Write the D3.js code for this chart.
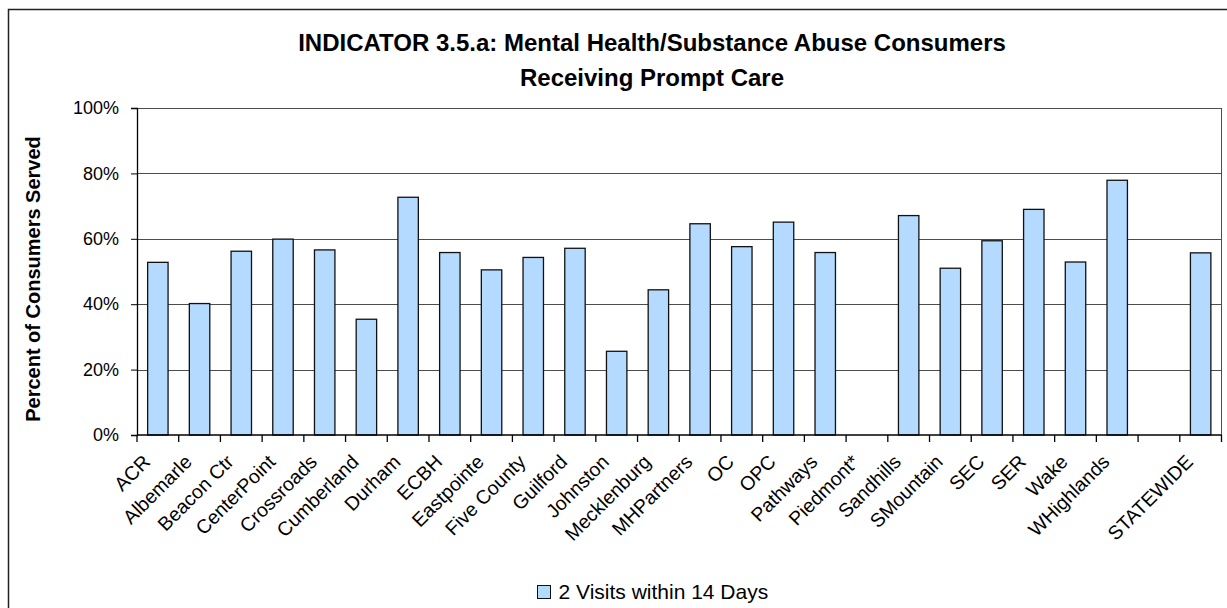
<!DOCTYPE html>
<html>
<head>
<meta charset="utf-8">
<script src="https://cdn.jsdelivr.net/npm/d3@7"></script>
<style>
  body { margin: 0; background: #fff; }
  text { font-family: "Liberation Sans", Arial, sans-serif; fill: #000; }
</style>
</head>
<body>
<svg id="chart" width="1227" height="608"></svg>
<script>
// Categories (the blank one is the gap before STATEWIDE)
var categories = [ 'ACR', 'Albemarle', 'Beacon Ctr', 'CenterPoint', 'Crossroads', 'Cumberland',
	'Durham', 'ECBH', 'Eastpointe', 'Five County', 'Guilford', 'Johnston', 'Mecklenburg',
	'MHPartners', 'OC', 'OPC', 'Pathways', 'Piedmont*', 'Sandhills', 'SMountain', 'SEC',
	'SER', 'Wake', 'WHighlands', '', 'STATEWIDE' ];

// Share of consumers with 2 visits within 14 days
var visits = [ 0.528, 0.402, 0.562, 0.599, 0.566, 0.354, 0.727, 0.558, 0.505, 0.543, 0.571,
	0.256, 0.444, 0.646, 0.576, 0.651, 0.558, null, 0.671, 0.510, 0.594, 0.690, 0.529,
	0.779, null, 0.557 ];

var yTicks = [ 0, 0.2, 0.4, 0.6, 0.8, 1 ];

var titleLines = [ 'INDICATOR 3.5.a: Mental Health/Substance Abuse Consumers', 'Receiving Prompt Care' ];
var yTitle = 'Percent of Consumers Served';
var seriesName = '2 Visits within 14 Days';

var viz = {
	plot: { left: 137, right: 1221.5, top: 108, bottom: 435 },
	barColor: '#b4daff',
	gridColor: '#4d4d4d'
};

var svg = d3.select( '#chart' );

// Outer chart frame (runs past the right and bottom edges)
svg.append( 'rect' )
	.attr( 'x', 8.5 ).attr( 'y', 9.5 )
	.attr( 'width', 1400 ).attr( 'height', 700 )
	.attr( 'fill', 'none' )
	.attr( 'stroke', '#222' )
	.attr( 'stroke-width', 1.5 );

var x = d3.scaleBand()
	.domain( categories )
	.range( [ viz.plot.left, viz.plot.right ] )
	.padding( 0 );

var y = d3.scaleLinear()
	.domain( [ 0, 1 ] )
	.range( [ viz.plot.bottom, viz.plot.top ] );

// Gridlines
svg.append( 'g' ).selectAll( 'line' )
	.data( yTicks.filter( function ( d ) { return d > 0; } ) )
	.enter().append( 'line' )
	.attr( 'x1', viz.plot.left ).attr( 'x2', viz.plot.right )
	.attr( 'y1', function ( d ) { return Math.round( y( d ) ) + 0.5; } )
	.attr( 'y2', function ( d ) { return Math.round( y( d ) ) + 0.5; } )
	.attr( 'stroke', viz.gridColor )
	.attr( 'stroke-width', 1 );

// Right border of the plot area
svg.append( 'line' )
	.attr( 'x1', viz.plot.right ).attr( 'x2', viz.plot.right )
	.attr( 'y1', viz.plot.top ).attr( 'y2', viz.plot.bottom )
	.attr( 'stroke', viz.gridColor );

// Bars
var barWidth = x.bandwidth() * 0.49;
svg.append( 'g' ).selectAll( 'rect' )
	.data( categories.map( function ( c, i ) { return { cat: c, value: visits[i] }; } )
		.filter( function ( d ) { return d.value !== null; } ) )
	.enter().append( 'rect' )
	.attr( 'x', function ( d ) { return x( d.cat ) + ( x.bandwidth() - barWidth ) / 2; } )
	.attr( 'y', function ( d ) { return y( d.value ); } )
	.attr( 'width', barWidth )
	.attr( 'height', function ( d ) { return y( 0 ) - y( d.value ); } )
	.attr( 'fill', viz.barColor )
	.attr( 'stroke', '#111' )
	.attr( 'stroke-width', 1.3 );

// Y axis
var yAxis = svg.append( 'g' )
	.attr( 'transform', 'translate(' + viz.plot.left + ',0)' )
	.call( d3.axisLeft( y ).tickValues( yTicks ).tickSize( 6 ).tickPadding( 12 ).tickFormat( d3.format( '.0%' ) ) );
yAxis.select( '.domain' ).attr( 'stroke', '#000' ).attr( 'stroke-width', 1.3 );
yAxis.selectAll( '.tick line' ).attr( 'stroke', '#000' );
yAxis.selectAll( 'text' )
	.style( 'font-family', '"Liberation Sans", Arial, sans-serif' )
	.style( 'font-size', '18px' )
	.attr( 'fill', '#000' );

// X axis line and boundary ticks
var xAxis = svg.append( 'g' );
xAxis.append( 'line' )
	.attr( 'x1', viz.plot.left ).attr( 'x2', viz.plot.right )
	.attr( 'y1', viz.plot.bottom ).attr( 'y2', viz.plot.bottom )
	.attr( 'stroke', '#000' ).attr( 'stroke-width', 1.3 );
xAxis.selectAll( '.xtick' )
	.data( categories.map( function ( c ) { return x( c ); } ).concat( [ viz.plot.right ] ) )
	.enter().append( 'line' )
	.attr( 'class', 'xtick' )
	.attr( 'x1', function ( d ) { return d; } ).attr( 'x2', function ( d ) { return d; } )
	.attr( 'y1', viz.plot.bottom ).attr( 'y2', viz.plot.bottom + 7 )
	.attr( 'stroke', '#000' ).attr( 'stroke-width', 1.3 );

// Rotated category labels
xAxis.selectAll( '.xlabel' )
	.data( categories )
	.enter().append( 'text' )
	.attr( 'class', 'xlabel' )
	.attr( 'transform', function ( d ) {
		return 'translate(' + ( x( d ) + x.bandwidth() / 2 ) + ',' + ( viz.plot.bottom + 12 ) + ') rotate(-45)';
	} )
	.attr( 'x', -16 )
	.attr( 'dy', '0.35em' )
	.attr( 'text-anchor', 'end' )
	.style( 'font-size', '19.5px' )
	.text( function ( d ) { return d; } );

// Title
svg.append( 'g' ).selectAll( 'text' )
	.data( titleLines )
	.enter().append( 'text' )
	.attr( 'x', 652 )
	.attr( 'y', function ( d, i ) { return 51 + i * 35; } )
	.attr( 'text-anchor', 'middle' )
	.style( 'font-size', '24px' )
	.style( 'font-weight', 'bold' )
	.text( function ( d ) { return d; } );

// Y axis title
svg.append( 'text' )
	.attr( 'transform', 'translate(40,279) rotate(-90)' )
	.attr( 'text-anchor', 'middle' )
	.style( 'font-size', '20px' )
	.style( 'font-weight', 'bold' )
	.text( yTitle );

// Legend
var legend = svg.append( 'g' ).attr( 'transform', 'translate(537.5,585.5)' );
legend.append( 'rect' )
	.attr( 'width', 13 ).attr( 'height', 13 )
	.attr( 'fill', viz.barColor )
	.attr( 'stroke', '#111' );
legend.append( 'text' )
	.attr( 'x', 21 ).attr( 'y', 13.5 )
	.style( 'font-size', '21px' )
	.text( seriesName );
</script>
</body>
</html>
